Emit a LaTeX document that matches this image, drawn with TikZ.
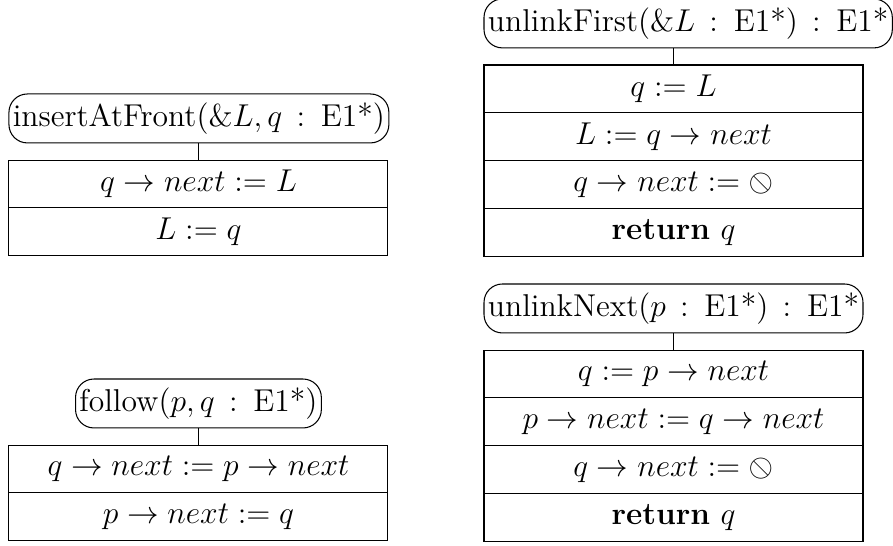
\documentclass[tikz,border=0pt]{standalone}
\usepackage{graphicx}
\usetikzlibrary{positioning}
\newcommand{\nullref}{\reflectbox{$\oslash$}}
\newcommand{\oftype}{\hspace{0.45em}:\hspace{0.5em}}
\begin{document}
\begin{tikzpicture}[node distance=0pt,
  stmt/.style={draw, rectangle, font=\large, minimum width=144pt, minimum height=18.2pt, inner sep=0pt, outer sep=0pt},
  head/.style={draw, rounded corners=7pt, font=\large, minimum height=18.6pt, inner xsep=1.5pt, inner ysep=0pt, outer sep=0pt}]
\useasboundingbox (0,0) rectangle (339.3pt,-207.1pt);
\node[stmt, anchor=north] (ins1) at (75.4pt,-60.8pt) {$q \rightarrow next := L$};
\node[stmt, below=of ins1] (ins2) {$L := q$};
\node[head, above=6.5pt of ins1.north west, anchor=south west] (insHead) {insertAtFront(\&$L, q$\oftype E1*)};
\draw (insHead.south -| ins1.north) -- (ins1.north);
\node[stmt, anchor=north] (fol1) at (75.4pt,-169.1pt) {$q \rightarrow next := p \rightarrow next$};
\node[stmt, below=of fol1] (fol2) {$p \rightarrow next := q$};
\node[head, above=6.5pt of fol1] (folHead) {follow($p, q$\oftype E1*)};
\draw (folHead.south -| fol1.north) -- (fol1.north);
\node[stmt, anchor=north] (ulf1) at (255.9pt,-24.7pt) {$q := L$};
\node[stmt, below=of ulf1] (ulf2) {$L := q \rightarrow next$};
\node[stmt, below=of ulf2] (ulf3) {$q \rightarrow next := \nullref$};
\node[stmt, below=of ulf3] (ulf4) {$\mathbf{return}\ q$};
\node[head, above=6.5pt of ulf1.north west, anchor=south west] (ulfHead) {unlinkFirst(\&$L$\oftype E1*)\oftype E1*};
\draw (ulfHead.south -| ulf1.north) -- (ulf1.north);
\node[stmt, anchor=north] (uln1) at (255.9pt,-133pt) {$q := p \rightarrow next$};
\node[stmt, below=of uln1] (uln2) {$p \rightarrow next := q \rightarrow next$};
\node[stmt, below=of uln2] (uln3) {$q \rightarrow next := \nullref$};
\node[stmt, below=of uln3] (uln4) {$\mathbf{return}\ q$};
\node[head, above=6.5pt of uln1] (ulnHead) {unlinkNext($p$\oftype E1*)\oftype E1*};
\draw (ulnHead.south -| uln1.north) -- (uln1.north);
\end{tikzpicture}
\end{document}
